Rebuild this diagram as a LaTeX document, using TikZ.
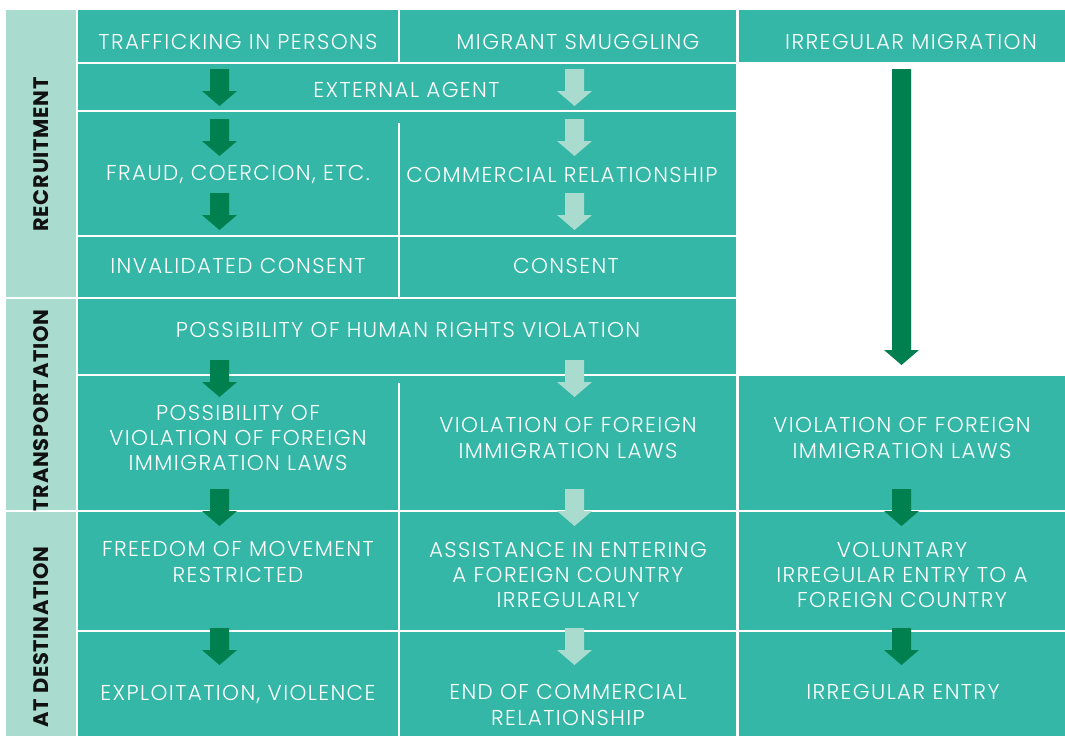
\documentclass[tikz,border=0pt]{standalone}
\usepackage{fontspec}
\IfFontExistsTF{Poppins Light}{\newfontfamily\bodyfont{Poppins Light}[LetterSpace=6.5]}{\newfontfamily\bodyfont{Poppins}[LetterSpace=6.5]}
\newfontfamily\labfont{Poppins}[LetterSpace=3.5]
\definecolor{teal}{HTML}{34B7A7}
\definecolor{paleteal}{HTML}{A9DBCF}
\definecolor{arrdark}{HTML}{007F4F}
\definecolor{labc}{HTML}{111111}
\tikzset{
  txt/.style={text=white, font=\bodyfont\fontsize{21.5}{25.3}\selectfont, align=center, inner sep=0pt, anchor=center},
  lab/.style={rotate=90, font=\labfont\bfseries\fontsize{21}{21}\selectfont, text=labc, inner sep=0pt, anchor=center},
  sepline/.style={draw=white, line width=2.2pt},
  darkarrow/.style={fill=arrdark},
  lightarrow/.style={fill=paleteal},
}
\newcommand\blockarrow[4]{% #1 style, #2 x, #3 top y, #4 tip y
  \fill[#1] ({#2-9.5},{#3}) -- ({#2+9.5},{#3}) -- ({#2+9.5},{#4-15}) -- ({#2+17.5},{#4-15}) -- ({#2},{#4}) -- ({#2-17.5},{#4-15}) -- ({#2-9.5},{#4-15}) -- cycle;}
\begin{document}
\begin{tikzpicture}[x=1pt,y=-1pt]
\useasboundingbox (0,0) rectangle (1065,736);
% backgrounds
\fill[paleteal] (6,10) rectangle (76,736);
\fill[teal] (78,10) rectangle (736,736);
\fill[teal] (739,10) rectangle (1065,62);
\fill[teal] (739,376) rectangle (1065,736);
% grid lines
\draw[sepline] (78,63) -- (736,63);
\draw[sepline] (78,111) -- (736,111);
\draw[sepline] (78,236) -- (736,236);
\draw[sepline] (6,298) -- (736,298);
\draw[sepline] (78,375) -- (736,375);
\draw[sepline] (6,511) -- (1065,511);
\draw[sepline] (78,631) -- (1065,631);
\draw[sepline] (399,10) -- (399,63);
\draw[sepline] (399,123) -- (399,298);
\draw[sepline] (399,383) -- (399,736);
% arrows column 1
\foreach \t in {69,119,193,360,489,628} \blockarrow{darkarrow}{219.5}{\t}{\t+37};
% arrows column 2
\foreach \t in {69,119,193,360,489,628} \blockarrow{lightarrow}{574.5}{\t}{\t+37};
% arrows column 3
\blockarrow{darkarrow}{901.5}{69}{365}
\foreach \t in {489,628} \blockarrow{darkarrow}{901.5}{\t}{\t+37};
% side labels
\node[lab] (recr) at (41,154.5) {RECRUITMENT};
\node[lab] (transp) at (41,410.5) {TRANSPORTATION};
\node[lab] (dest) at (41,637) {AT DESTINATION};
% headers
\node[txt] (h1) at (238,41.5) {TRAFFICKING IN PERSONS};
\node[txt] (h2) at (578,41.5) {MIGRANT SMUGGLING};
\node[txt] (h3) at (911,41.5) {IRREGULAR MIGRATION};
% recruitment
\node[txt] (ext) at (406.5,90) {EXTERNAL AGENT};
\node[txt] (fraud) at (238,174.5) {FRAUD, COERCION, ETC.};
\node[txt] (comm) at (562,174.5) {COMMERCIAL RELATIONSHIP};
\node[txt] (invc) at (238,265.5) {INVALIDATED CONSENT};
\node[txt] (cons) at (566,265.5) {CONSENT};
% transportation
\node[txt] (hrv) at (408,329.5) {POSSIBILITY OF HUMAN RIGHTS VIOLATION};
\node[txt] (pviol) at (238,438) {POSSIBILITY OF\\VIOLATION OF FOREIGN\\IMMIGRATION LAWS};
\node[txt] (viol2) at (568,438) {VIOLATION OF FOREIGN\\IMMIGRATION LAWS};
\node[txt] (viol3) at (902,438) {VIOLATION OF FOREIGN\\IMMIGRATION LAWS};
% destination
\node[txt] (free) at (238,562) {FREEDOM OF MOVEMENT\\RESTRICTED};
\node[txt] (assist) at (568,575) {ASSISTANCE IN ENTERING\\A FOREIGN COUNTRY\\IRREGULARLY};
\node[txt] (volun) at (902,575) {VOLUNTARY\\IRREGULAR ENTRY TO A\\FOREIGN COUNTRY};
\node[txt] (expl) at (238,694) {EXPLOITATION, VIOLENCE};
\node[txt] (endc) at (568,705) {END OF COMMERCIAL\\RELATIONSHIP};
\node[txt] (irre) at (903,691.5) {IRREGULAR ENTRY};
\end{tikzpicture}
\end{document}
